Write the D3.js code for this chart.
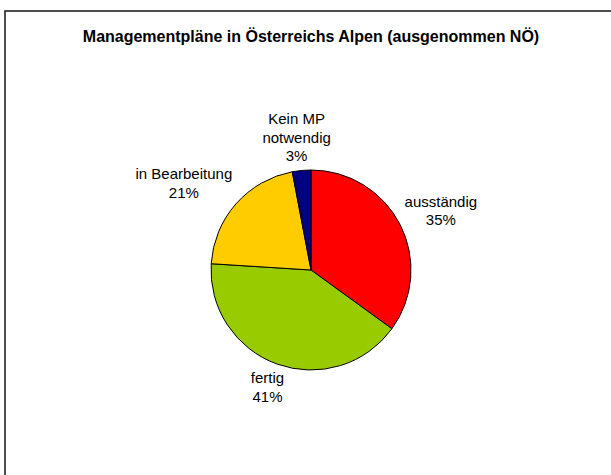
<!DOCTYPE html>
<html>
<head>
<meta charset="utf-8">
<script src="https://cdn.jsdelivr.net/npm/d3@7"></script>
<style>
  body { margin: 0; background: #fff; }
  svg { display: block; font-family: "Liberation Sans", Arial, sans-serif; }
</style>
</head>
<body>
<div id="chart"></div>
<script>
const title = "Managementpläne in Österreichs Alpen (ausgenommen NÖ)";
const categories = ["ausständig", "fertig", "in Bearbeitung", "Kein MP notwendig"];
const labelLines = [["ausständig"], ["fertig"], ["in Bearbeitung"], ["Kein MP", "notwendig"]];
const values = [35, 41, 21, 3];
const colors = ["#FF0000", "#99CC00", "#FFCC00", "#000080"];

const width = 611;
const height = 475;
const cx = 311, cy = 270, radius = 100;

const svg = d3.select("#chart")
    .append("svg")
    .attr("width", width)
    .attr("height", height);

// frame (cut off at right and bottom like the screenshot)
svg.append("rect")
    .attr("x", 5)
    .attr("y", 11)
    .attr("width", 800)
    .attr("height", 800)
    .attr("fill", "none")
    .attr("stroke", "#222")
    .attr("stroke-width", 1.6);

svg.append("text")
    .attr("x", cx)
    .attr("y", 42)
    .attr("text-anchor", "middle")
    .attr("font-size", "16px")
    .attr("font-weight", "bold")
    .attr("fill", "#000")
    .text(title);

const data = categories.map((c, i) => ({ name: c, value: values[i], color: colors[i], lines: labelLines[i] }));

const pie = d3.pie().value(d => d.value).sort(null);
const arc = d3.arc().innerRadius(0).outerRadius(radius);
const arcs = pie(data);

const g = svg.append("g").attr("transform", "translate(" + cx + "," + cy + ")");

g.selectAll("path")
    .data(arcs)
    .enter()
    .append("path")
    .attr("d", arc)
    .attr("fill", d => d.data.color)
    .attr("stroke", "#000")
    .attr("stroke-width", 1);

// labels: name lines + percentage, placed outside the pie
const total = d3.sum(values);
const lh = 18.5;
const gap = 5;
const clamp = v => Math.max(-1, Math.min(1, v));

arcs.forEach(d => {
    const lines = d.data.lines.concat([Math.round(d.data.value / total * 100) + "%"]);
    const t = g.append("text")
        .attr("text-anchor", "middle")
        .attr("font-size", "15px")
        .attr("fill", "#000");
    lines.forEach((s, i) => t.append("tspan").attr("x", 0).attr("data-i", i).text(s));
    const w = t.node().getBBox().width;
    const h = lines.length * lh;
    const a = (d.startAngle + d.endAngle) / 2;
    const sx = Math.sin(a), sy = -Math.cos(a);
    const px = sx * (radius + gap), py = sy * (radius + gap);
    const bx = px + clamp(sx * 1.4) * w / 2;
    const by = py + clamp(sy * 1.4) * h / 2;
    t.selectAll("tspan")
        .attr("x", bx)
        .attr("y", (s, i) => by - h / 2 + (i + 0.5) * lh)
        .attr("dy", "0.35em");
});
</script>
</body>
</html>
